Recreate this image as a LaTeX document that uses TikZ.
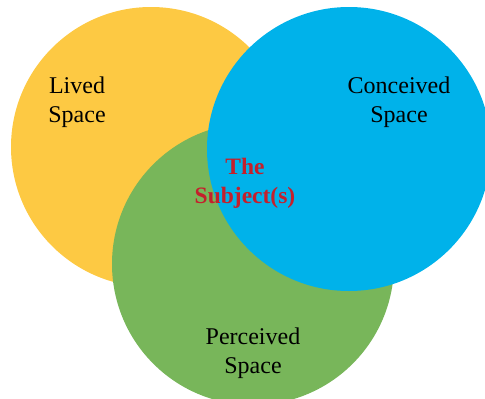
\documentclass[tikz,border=0pt]{standalone}
\usepackage{fontspec}
\setmainfont{Liberation Serif}
\definecolor{livedc}{HTML}{FDC943}
\definecolor{percc}{HTML}{78B65A}
\definecolor{concc}{HTML}{00B2EA}
\definecolor{subjc}{HTML}{C4202C}
\tikzset{
  venn/.style={circle, inner sep=0pt, draw=none},
  lbl/.style={align=center, text=black, font=\fontsize{24}{29}\selectfont, inner sep=0pt},
  subj/.style={align=center, text=subjc, font=\fontsize{23.5}{29}\selectfont\bfseries, inner sep=0pt}
}
\begin{document}
\begin{tikzpicture}[x=1pt,y=-1pt]
\useasboundingbox (0,0) rectangle (485,399);
\begin{scope}
\clip (0,0) rectangle (485,399);
\node[venn, fill=livedc, minimum size=280pt] (lived) at (151,147) {};
\node[venn, fill=percc, minimum size=282pt] (perc) at (253,264) {};
\node[venn, fill=concc, minimum size=284pt] (conc) at (349,149) {};
\end{scope}
\node[lbl] (livedt) at (77,102) {Lived\\Space};
\node[lbl] (conct) at (399,102) {Conceived\\Space};
\node[subj] (subjt) at (245,183) {The\\Subject(s)};
\node[lbl] (perct) at (253,353) {Perceived\\Space};
\end{tikzpicture}
\end{document}
